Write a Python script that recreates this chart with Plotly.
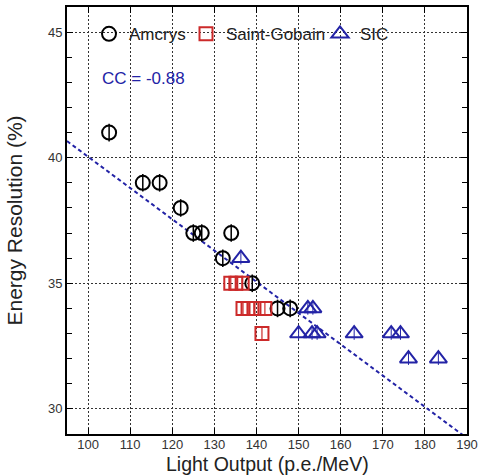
import plotly.graph_objects as go

# Light output (p.e./MeV) and energy resolution (%) per crystal vendor
amcrys_lo = [105, 113, 117, 122, 125, 127, 132, 134, 139, 145, 148]
amcrys_er = [41, 39, 39, 38, 37, 37, 36, 37, 35, 34, 34]

sg_lo = [133.9, 135.1, 136.6, 136.8, 138.0, 139.4, 142.0, 141.3]
sg_er = [35, 35, 35, 34, 34, 34, 34, 33]

sic_lo = [136.3, 152.2, 153.4, 150.0, 153.2, 154.4, 163.2, 172.0, 174.2, 176.1, 183.2]
sic_er = [36, 34, 34, 33, 33, 33, 33, 33, 33, 32, 32]

# Linear fit of resolution vs light output
fit_slope = -0.1245
fit_intercept = 52.49
fit_x = [95, 190]
cc_text = "CC = -0.88"

x_ticks = [100, 110, 120, 130, 140, 150, 160, 170, 180, 190]
y_ticks = [30, 35, 40, 45]

BLUE = "#2323a6"
RED = "#cc2a2a"
FONT = "Liberation Sans, Arial, sans-serif"

fig = go.Figure()

fig.add_trace(go.Scatter(
    x=fit_x, y=[fit_intercept + fit_slope * v for v in fit_x],
    mode="lines", line=dict(color=BLUE, width=2, dash="4px,3px"),
    showlegend=False, hoverinfo="skip", cliponaxis=True,
))

fig.add_trace(go.Scatter(
    x=amcrys_lo, y=amcrys_er, mode="markers", name="Amcrys", legend="legend",
    marker=dict(symbol="circle-open", size=14, color="black", line=dict(width=2, color="black")),
    error_y=dict(type="constant", value=0.35, color="black", thickness=1.5, width=0),
))

fig.add_trace(go.Scatter(
    x=sg_lo, y=sg_er, mode="markers", name="Saint-Gobain", legend="legend2",
    marker=dict(symbol="square-open", size=13, color=RED, line=dict(width=2, color=RED)),
    error_y=dict(type="constant", value=0.3, color=RED, thickness=1.2, width=0),
))

fig.add_trace(go.Scatter(
    x=sic_lo, y=sic_er, mode="markers", name="SIC", legend="legend3",
    marker=dict(symbol="triangle-up-open", size=15, color=BLUE, line=dict(width=2, color=BLUE)),
    error_y=dict(type="constant", value=0.25, color=BLUE, thickness=1, width=0),
))

fig.add_annotation(
    x=102.8, y=43.15, xref="x", yref="y", text=cc_text, showarrow=False,
    xanchor="left", yanchor="middle", font=dict(family=FONT, size=17, color=BLUE),
)

# x-axis title placed low, against the bottom edge of the page
fig.add_annotation(
    x=0.5, y=-42 / 427, xref="paper", yref="paper", text="Light Output (p.e./MeV)",
    showarrow=False, xanchor="center", yanchor="bottom", borderpad=0,
    font=dict(family=FONT, size=19.5, color="#222222"),
)

axis_common = dict(
    showline=True, linecolor="black", linewidth=2, mirror="ticks",
    ticks="inside", tickcolor="black", ticklen=6, tickwidth=1,
    showgrid=True, gridcolor="#333333", gridwidth=1, griddash="2px,2px",
    zeroline=False, tickfont=dict(family=FONT, size=13, color="#333333"),
)

fig.update_xaxes(
    range=[95, 190], tickvals=x_ticks, ticktext=[str(v) for v in x_ticks],
    ticklabelstandoff=-3, automargin=False, **axis_common,
)
fig.update_yaxes(
    range=[29, 46], tickvals=y_ticks, ticktext=[str(v) for v in y_ticks],
    minor=dict(dtick=1, ticks="inside", ticklen=5, tickcolor="black", showgrid=False),
    title=dict(text="Energy Resolution (%)", font=dict(family=FONT, size=21, color="#222222"), standoff=20),
    automargin=False, **axis_common,
)

legend_common = dict(
    orientation="h", xanchor="left", yanchor="middle",
    bgcolor="rgba(0,0,0,0)", font=dict(family=FONT, size=17, color="#222222"),
)
legend_y = (45 - 29) / 17 - 0.005

fig.update_layout(
    width=481, height=476,
    margin=dict(l=67, r=14, t=7, b=42),
    paper_bgcolor="white", plot_bgcolor="white",
    font=dict(family=FONT),
    legend=dict(x=0.055, y=legend_y, **legend_common),
    legend2=dict(x=0.2975, y=legend_y, **legend_common),
    legend3=dict(x=0.6325, y=legend_y, **legend_common),
)

fig.write_html("out.html")
